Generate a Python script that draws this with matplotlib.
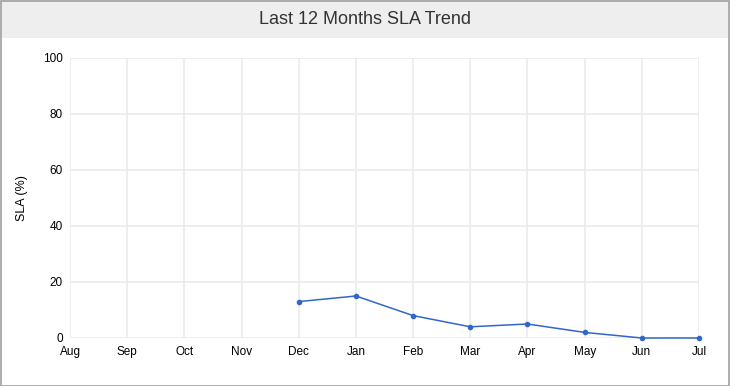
import matplotlib
matplotlib.use("Agg")
import matplotlib.pyplot as plt
from matplotlib.patches import Rectangle

plt.rcParams['font.family'] = ['Liberation Sans', 'DejaVu Sans']

# --- data ---
months = ['Aug', 'Sep', 'Oct', 'Nov', 'Dec', 'Jan', 'Feb', 'Mar', 'Apr', 'May', 'Jun', 'Jul']
sla_months = ['Dec', 'Jan', 'Feb', 'Mar', 'Apr', 'May', 'Jun', 'Jul']
sla_values = [13, 15, 8, 4, 5, 2, 0, 0]
y_ticks = [0, 20, 40, 60, 80, 100]
title = 'Last 12 Months SLA Trend'

W, H = 730, 386
fig = plt.figure(figsize=(W / 100, H / 100), dpi=100)
fig.patch.set_facecolor('white')

# title bar
fig.patches.append(Rectangle((0, 1 - 38 / H), 1, 38 / H, transform=fig.transFigure,
                             facecolor='#eeeeee', edgecolor='none', zorder=0))
fig.text(0.5, 1 - 19 / H, title, ha='center', va='center', fontsize=13, color='#333333')
# outer border
fig.patches.append(Rectangle((0.5 / W, 0.5 / H), 1 - 1.5 / W, 1 - 1.5 / H,
                             transform=fig.transFigure, facecolor='none',
                             edgecolor='#a0a0a0', linewidth=1.2, zorder=5))

left, right, top, bottom = 70, 699, 58, 338
ax = fig.add_axes([left / W, 1 - bottom / H, (right - left) / W, (bottom - top) / H])

x_pos = {m: i for i, m in enumerate(months)}
xs = [x_pos[m] for m in sla_months]
ax.plot(xs, sla_values, color='#3366cc', linewidth=1.1, marker='o', markersize=3, zorder=3,
        clip_on=False)

ax.set_xlim(0, len(months) - 1)
ax.set_ylim(0, 100)
ax.set_xticks(range(len(months)))
ax.set_xticklabels(months)
ax.set_yticks(y_ticks)
ax.grid(True, color='#ebebeb', linewidth=1.2)
ax.set_axisbelow(True)
for s in ax.spines.values():
    s.set_visible(False)
ax.tick_params(length=0, labelsize=8.5, colors='black')
ax.tick_params(axis='x', pad=6)
ax.tick_params(axis='y', pad=5)
ax.set_ylabel('SLA (%)', fontsize=9, labelpad=11)

fig.savefig('out.png', dpi=100)
